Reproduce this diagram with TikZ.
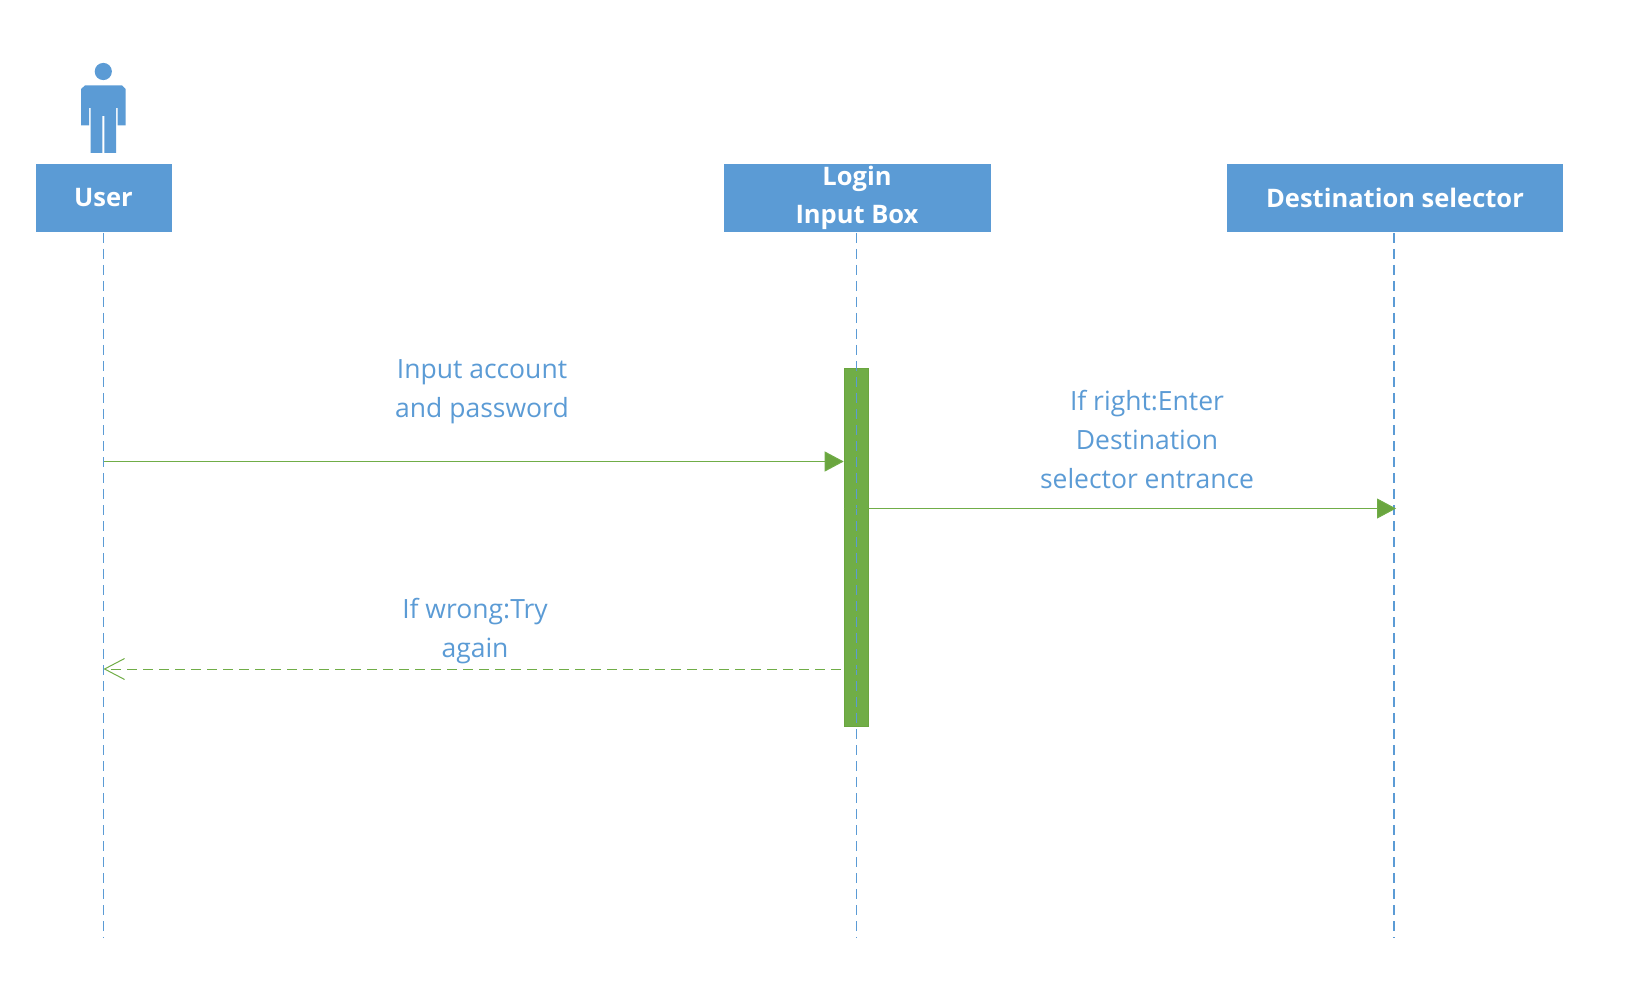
\documentclass[tikz,border=0pt]{standalone}
\usepackage{fontspec}
\setmainfont{Open Sans}
\usetikzlibrary{arrows.meta,calc}
\definecolor{uBlue}{HTML}{5B9BD5}
\definecolor{uGreen}{HTML}{70AD47}
\definecolor{uGreenD}{HTML}{6AA53F}
\tikzset{
  headbox/.style={draw=uBlue,fill=uBlue,line width=0.6pt,inner sep=0pt,minimum height=67pt,text=white,
    font=\fontsize{25.5}{38}\selectfont\bfseries,align=center},
  lifeline/.style={draw=uBlue,line width=1.1pt,dash pattern=on 10pt off 6pt},
  msglabel/.style={text=uBlue,font=\fontsize{26.5}{39}\selectfont,align=center,inner sep=0pt},
  activation/.style={draw=uGreenD,fill=uGreen,line width=0.6pt,inner sep=0pt},
  callmsg/.style={draw=uGreen,line width=1pt,-{Triangle[length=19pt,width=20pt,fill=uGreenD]}},
  replymsg/.style={draw=uGreen,line width=1pt,dash pattern=on 10pt off 6pt,-{Straight Barb[length=20pt,width=21pt,line width=1pt]}},
  usericon/.style={fill=uBlue,draw=none}
}
\begin{document}
\begin{tikzpicture}[x=1pt,y=-1pt]
\useasboundingbox (0,0) rectangle (1631,992);
% actor icon
\fill[usericon] (103.3,71.5) circle (8.6);
\fill[usericon] (85,85.5) -- (122,85.5) -- (125.5,89) -- (125.5,125.5) -- (117.5,125.5) -- (117.5,108)
  -- (116,108) -- (116,153) -- (104.3,153) -- (104.3,116) -- (102.3,116) -- (102.3,153)
  -- (90.5,153) -- (90.5,108) -- (89,108) -- (89,125.5) -- (81,125.5) -- (81,89) -- cycle;
% header boxes
\node[headbox,minimum width=135pt] (user) at (103.5,197.5) {User};
\node[headbox,minimum width=266pt] (login) at (857,197.5) {Login\\Input Box};
\node[headbox,minimum width=335pt] (dest) at (1395,197.5) {Destination selector};
% activation
\node[activation,minimum width=24pt,minimum height=358pt] (act) at (856,547) {};
% lifeline ends
\coordinate (userTop) at (103.5,233);
\coordinate (userEnd) at (103.5,938);
\coordinate (loginTop) at (856.5,233);
\coordinate (loginEnd) at (856.5,938);
\coordinate (destTop) at (1394,233);
\coordinate (destEnd) at (1394,938);
\draw[lifeline] (userTop) -- (userEnd);
\draw[lifeline] (loginTop) -- (loginEnd);
\draw[lifeline] (destTop) -- (destEnd);
% messages
\coordinate (m1s) at (userTop |- 0,461.5);
\coordinate (m1e) at (act.west |- 0,461.5);
\draw[callmsg] (m1s) -- (m1e);
\coordinate (m2s) at (act.west |- 0,508.5);
\coordinate (m2e) at ($(destTop |- 0,508.5)+(2,0)$);
\draw[callmsg] (m2s) -- (m2e);
\coordinate (m3s) at (loginTop |- 0,669);
\coordinate (m3e) at (userTop |- 0,669);
\draw[replymsg] (m3s) -- (m3e);
% labels
\node[msglabel] (l1) at (482,392) {Input account\\and password};
\node[msglabel] (l2) at (1147,439) {If right:Enter\\Destination\\selector entrance};
\node[msglabel] (l3) at (475,631.5) {If wrong:Try\\again};
\end{tikzpicture}
\end{document}
